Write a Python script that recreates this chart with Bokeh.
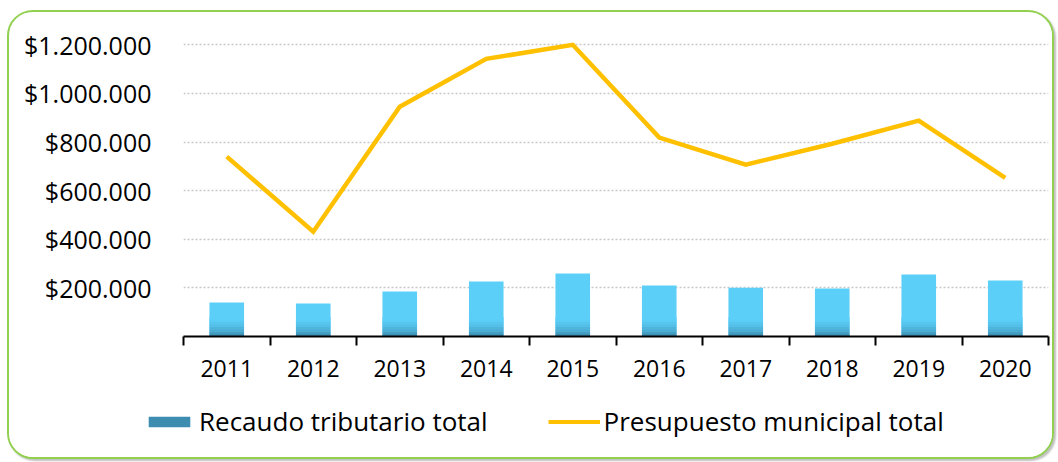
from bokeh.plotting import figure
from bokeh.layouts import column, row
from bokeh.models import FixedTicker, Legend, LegendItem
from bokeh.embed import file_html
from bokeh.resources import INLINE

# ---- data ----
years = [2011, 2012, 2013, 2014, 2015, 2016, 2017, 2018, 2019, 2020]
year_labels = ["2011", "2012", "2013", "2014", "2015", "2016", "2017", "2018", "2019", "2020"]
recaudo = [140000, 136000, 185000, 226000, 259000, 210000, 201000, 197000, 255000, 230000]
presupuesto = [740000, 431000, 945000, 1142000, 1200000, 818000, 707000, 793000, 888000, 653000]
y_ticks = [200000, 400000, 600000, 800000, 1000000, 1200000]
y_tick_labels = ["$200.000", "$400.000", "$600.000", "$800.000", "$1.000.000", "$1.200.000"]
series_names = ["Recaudo tributario total", "Presupuesto municipal total"]

FONT = "Open Sans"
BAR_COLOR = "#5CCFF9"
BAR_DARK = "#3D8DB1"
LINE_COLOR = "#FFC000"
W = 1043
H1, H2 = 375, 70

p = figure(width=W, height=H1, x_range=(2010.5, 2020.5), y_range=(0, 1230000),
           output_backend="svg", toolbar_location=None,
           min_border_left=174, min_border_right=4, min_border_top=25, min_border_bottom=51)
p.outline_line_color = None
p.background_fill_color = "white"
p.border_fill_color = "white"

# grid
p.xgrid.grid_line_color = None
p.ygrid.ticker = FixedTicker(ticks=y_ticks)
p.ygrid.grid_line_color = "#C8C8C8"
p.ygrid.grid_line_dash = "2 2"
p.ygrid.grid_line_width = 1.5

# y axis
p.yaxis.ticker = FixedTicker(ticks=y_ticks)
p.yaxis.major_label_overrides = {t: l for t, l in zip(y_ticks, y_tick_labels)}
p.yaxis.axis_line_color = None
p.yaxis.major_tick_line_color = None
p.yaxis.minor_tick_line_color = None
p.yaxis.major_label_standoff = 26
p.yaxis.major_label_text_font = FONT
p.yaxis.major_label_text_font_size = "25px"
p.yaxis.major_label_text_color = "black"

# x axis
boundaries = [y - 0.5 for y in years] + [years[-1] + 0.5]
p.xaxis.ticker = FixedTicker(ticks=years, minor_ticks=boundaries)
p.xaxis.major_label_overrides = {y: l for y, l in zip(years, year_labels)}
p.xaxis.axis_line_color = "black"
p.xaxis.axis_line_width = 2
p.xaxis.major_tick_line_color = None
p.xaxis.minor_tick_line_color = "black"
p.xaxis.minor_tick_line_width = 2
p.xaxis.minor_tick_out = 9
p.xaxis.minor_tick_in = 0
p.xaxis.major_label_standoff = 14
p.xaxis.major_label_text_font = FONT
p.xaxis.major_label_text_font_size = "23px"
p.xaxis.major_label_text_color = "black"

# bars with a darkening bottom band (simulated gradient)
bar_w = 0.4
p.vbar(x=years, top=recaudo, bottom=0, width=bar_w, fill_color=BAR_COLOR, line_color=None)
top_rgb = (92, 207, 249)
bot_rgb = (62, 145, 180)
n_seg = 8
band = 80000.0
seg_h = band / n_seg
for i in range(n_seg):
    f = (1 - i / (n_seg - 1)) ** 1.5
    c = tuple(int(round(top_rgb[k] + (bot_rgb[k] - top_rgb[k]) * f)) for k in range(3))
    col = "#%02x%02x%02x" % c
    b = [min(v, i * seg_h) for v in recaudo]
    t = [min(v, (i + 1) * seg_h) for v in recaudo]
    p.vbar(x=years, top=t, bottom=b, width=bar_w, fill_color=col, line_color=None)

p.line(x=years, y=presupuesto, line_color=LINE_COLOR, line_width=4.5, line_join="miter")

# ---- legend strip ----
p2 = figure(width=W, height=H2, x_range=(0, 1), y_range=(0, 1),
            output_backend="svg", toolbar_location=None,
            x_axis_location=None, y_axis_location=None,
            min_border_left=0, min_border_right=0, min_border_top=0, min_border_bottom=0)
p2.outline_line_color = None
p2.grid.grid_line_color = None
p2.background_fill_color = "white"
p2.border_fill_color = "white"
# legend-only swatch renderers, placed outside the visible range
lb = p2.quad(left=[-6], right=[-5], top=[-5], bottom=[-6], fill_color=BAR_DARK, line_color=None)
ll = p2.line(x=[-5, -4], y=[-5, -5], line_color=LINE_COLOR, line_width=4)

legend = Legend(items=[LegendItem(label=series_names[0], renderers=[lb]),
                       LegendItem(label=series_names[1], renderers=[ll])],
                orientation="horizontal", location=(134, 18))
legend.glyph_width = 52
legend.glyph_height = 13
legend.label_standoff = 4
legend.spacing = 60
legend.padding = 0
legend.margin = 0
legend.border_line_color = None
legend.background_fill_alpha = 0
legend.label_text_font = FONT
legend.label_text_font_size = "26px"
legend.label_text_color = "black"
p2.add_layout(legend, "center")

layout = column(p, row(p2, spacing=0), spacing=0)
layout.styles = {"border": "2px solid #92D050", "border-radius": "26px",
                 "box-shadow": "2px 2px 2px rgba(0,0,0,0.25)", "overflow": "hidden",
                 "margin-left": "7px", "margin-top": "10px", "background-color": "white"}

open("out.html", "w").write(file_html(layout, INLINE))
